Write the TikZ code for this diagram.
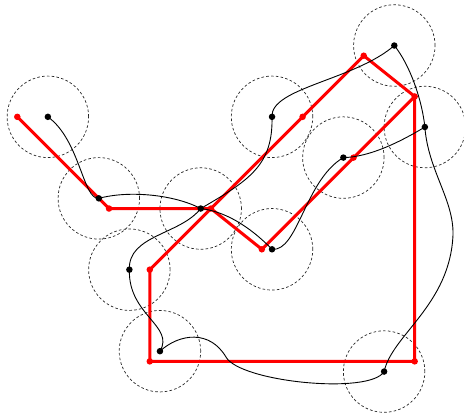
\documentclass[tikz,border=0pt]{standalone}
\tikzset{
 zone/.style={circle,draw=black!85,line width=0.7pt,dash pattern=on 2.6pt off 2.2pt,minimum size=81.5pt,inner sep=0pt},
 reddot/.style={circle,fill=red,inner sep=0pt,minimum size=6.5pt},
 blackdot/.style={circle,fill=black,inner sep=0pt,minimum size=6.5pt},
 redpath/.style={red,line width=3pt,line join=round},
 tour/.style={black,line width=0.9pt},
}
\begin{document}
\begin{tikzpicture}[x=10.19pt,y=-10.19pt]
\useasboundingbox (-1.698,-5.466) rectangle (43.84,35.26);
% black points (circle centres)
\coordinate (b1) at (3,6);
\coordinate (b2) at (8,14);
\coordinate (b3) at (18,15);
\coordinate (b4) at (25,6);
\coordinate (b5) at (37,-1);
\coordinate (b6) at (40,7);
\coordinate (b7) at (32,10);
\coordinate (b8) at (25,19);
\coordinate (b9) at (11,21);
\coordinate (b10) at (14,29);
\coordinate (b11) at (36,31);
% dashed circles
\foreach \k in {1,...,11} { \node[zone] (z\k) at (b\k) {}; }
% red points
\node[reddot] (r1) at (0,6) {};
\node[reddot] (r2) at (9,15) {};
\node[reddot] (r3) at (19,15) {};
\node[reddot] (r4) at (28,6) {};
\node[reddot] (r5) at (34,0) {};
\node[reddot] (r6) at (39,4) {};
\node[reddot] (r7) at (33,10) {};
\node[reddot] (r8) at (24,19) {};
\node[reddot] (r9) at (13,21) {};
\node[reddot] (r10) at (13,30) {};
\node[reddot] (r11) at (39,30) {};
\draw[redpath] (r1.center) -- (r2.center) -- (r3.center) -- (r8.center) -- (r7.center)
  -- (r6.center) -- (r5.center) -- (r4.center) -- (r3.center) -- (r9.center)
  -- (r10.center) -- (r11.center) -- (r6.center);
% black tour
\draw[tour] (b1) .. controls (6.15,8.27) and (6.45,14.16) .. (b2)
  .. controls (11.06,13.18) and (15.48,13.67) .. (b3)
  .. controls (20.87,15.34) and (23.33,17.3) .. (b8)
  .. controls (27.55,19.26) and (28.23,12.2) .. (b7)
  .. controls (34.61,9.94) and (37.56,8.47) .. (b6)
  .. controls (39.72,4.35) and (38.54,0.91) .. (b5)
  .. controls (33.14,2.38) and (24.8,3.17) .. (b4)
  .. controls (25.09,10.73) and (22.84,12.2) .. (b3)
  .. controls (15.97,17.59) and (10.86,17.59) .. (b9)
  .. controls (10.86,25.44) and (15.48,26.53) .. (b10)
  .. controls (15.97,27.22) and (18.91,26.92) .. (20.48,29.57)
  .. controls (21.85,32.02) and (34.61,33.3) .. (b11)
  .. controls (36.77,27.41) and (42.46,24.46) .. (42.76,17.6)
  .. controls (42.86,14.16) and (40.3,11.22) .. (b6);
% black dots
\foreach \k in {1,...,11} { \node[blackdot] (d\k) at (b\k) {}; }
\end{tikzpicture}
\end{document}
